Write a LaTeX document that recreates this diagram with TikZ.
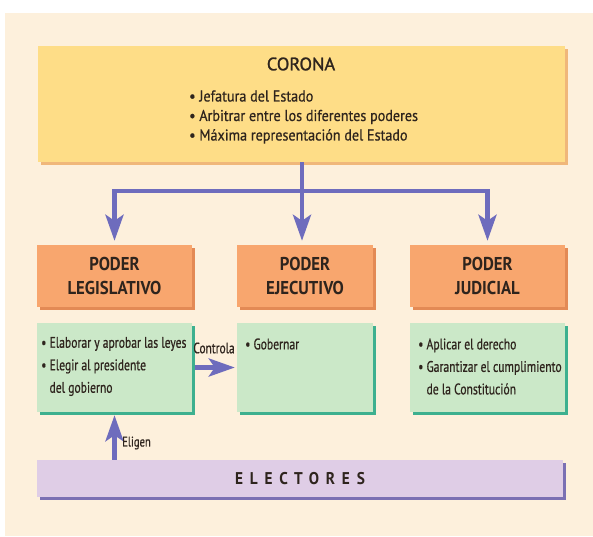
\documentclass[tikz,border=0pt]{standalone}
\usepackage{fontspec}
\setmainfont{PT Sans}[FakeStretch=0.76,FakeBold=0.6]
\newfontfamily\coronafont{PT Sans}[FakeStretch=0.9,FakeBold=0.6]
\newfontfamily\headfont{PT Sans}[FakeStretch=1.02,FakeBold=1.4]
\newfontfamily\titlefont{PT Sans}[FakeStretch=0.9]
\usetikzlibrary{arrows.meta,shadows}
\definecolor{fondo}{HTML}{FDF0DC}
\definecolor{coronafill}{HTML}{FEDD87}
\definecolor{coronashade}{HTML}{F0B77A}
\definecolor{poderfill}{HTML}{F8A66E}
\definecolor{podershade}{HTML}{E38A55}
\definecolor{tareafill}{HTML}{CBE8C8}
\definecolor{tareashade}{HTML}{3DB08F}
\definecolor{electfill}{HTML}{DFCDE6}
\definecolor{electshade}{HTML}{7B70B3}
\definecolor{flecha}{HTML}{6E6CBD}
\definecolor{texto}{HTML}{2E241D}
\begin{document}
\begin{tikzpicture}[x=1pt,y=-1pt,text=texto,
    shade/.style={general shadow={fill=#1,shadow xshift=3pt,shadow yshift=-3pt}},
    coronabox/.style={fill=coronafill,shade=coronashade,minimum width=527pt,minimum height=116pt,inner sep=0pt},
    powerbox/.style={fill=poderfill,shade=podershade,minimum width=#1,minimum height=62pt,inner sep=0pt,
      align=center,font=\titlefont\bfseries\fontsize{18.6}{24}\selectfont},
    taskbox/.style={fill=tareafill,shade=tareashade,minimum width=#1,minimum height=89pt,inner sep=0pt},
    electbox/.style={fill=electfill,shade=electshade,minimum width=526pt,minimum height=37pt,inner sep=0pt},
    items/.style={anchor=west,align=left,inner sep=0pt,font=\fontsize{15.3}{22.5}\selectfont},
    tag/.style={inner sep=0pt,font=\fontsize{15}{16}\selectfont},
    flow/.style={draw=flecha,line width=4.5pt,-{Stealth[length=26pt,width=18pt,inset=6pt]}}]
  \useasboundingbox (0,0) rectangle (593,536);
  \fill[white] (0,0) rectangle (593,536);
  \fill[fondo] (5,13) rectangle (593,536);
  % corona
  \node[coronabox] (corona) at (301,104) {};
  \node[inner sep=0pt,font=\headfont\fontsize{18}{20}\selectfont] (coronatitle) at (301,64) {CORONA};
  \node[items,font=\coronafont\fontsize{15.7}{19.5}\selectfont] (coronalist) at (189,117)
    {\textbullet\ Jefatura del Estado\\
     \textbullet\ Arbitrar entre los diferentes poderes\\
     \textbullet\ Máxima representación del Estado};
  % poderes
  \node[powerbox=155pt] (legis) at (114.5,276) {PODER\\LEGISLATIVO};
  \node[powerbox=136pt] (ejec) at (305,276) {PODER\\EJECUTIVO};
  \node[powerbox=155pt] (judic) at (487.5,276) {PODER\\JUDICIAL};
  % funciones
  \node[taskbox=155pt] (legistask) at (114.5,367.5) {};
  \node[taskbox=136pt] (ejectask) at (305,367.5) {};
  \node[taskbox=155pt] (judictask) at (487.5,367.5) {};
  \node[items] (legistext) at (41,366.5)
    {\textbullet\ Elaborar y aprobar las leyes\\
     \textbullet\ Elegir al presidente\\
     \phantom{\textbullet\ }del gobierno};
  \node[items] (ejectext) at (245,344) {\textbullet\ Gobernar};
  \node[items] (judictext) at (418,366.5)
    {\textbullet\ Aplicar el derecho\\
     \textbullet\ Garantizar el cumplimiento\\
     \phantom{\textbullet\ }de la Constitución};
  % electores
  \node[electbox] (electores) at (300,478.5) {};
  \node[inner sep=0pt,font=\titlefont\bfseries\fontsize{17}{18}\selectfont\addfontfeature{LetterSpace=40}] (electtext) at (300,479) {ELECTORES};
  % flechas
  \coordinate (split) at (302,191);
  \draw[flow,shorten >=4pt] (corona.south -| split) -- (split |- ejec.north);
  \draw[flow,shorten >=4pt] (split) -| (legis.north);
  \draw[flow,shorten >=4pt] (split) -| (judic.north);
  \draw[flow,shorten <=3pt,shorten >=2pt] (legistask.east) -- (ejectask.west);
  \node[tag] (controla) at (214,348) {Controla};
  \draw[flow,shorten >=3pt] (electores.north -| legistask) -- (legistask.south);
  \node[tag,anchor=west,font=\fontsize{14}{16}\selectfont] (eligen) at (122,443) {Eligen};
\end{tikzpicture}
\end{document}
